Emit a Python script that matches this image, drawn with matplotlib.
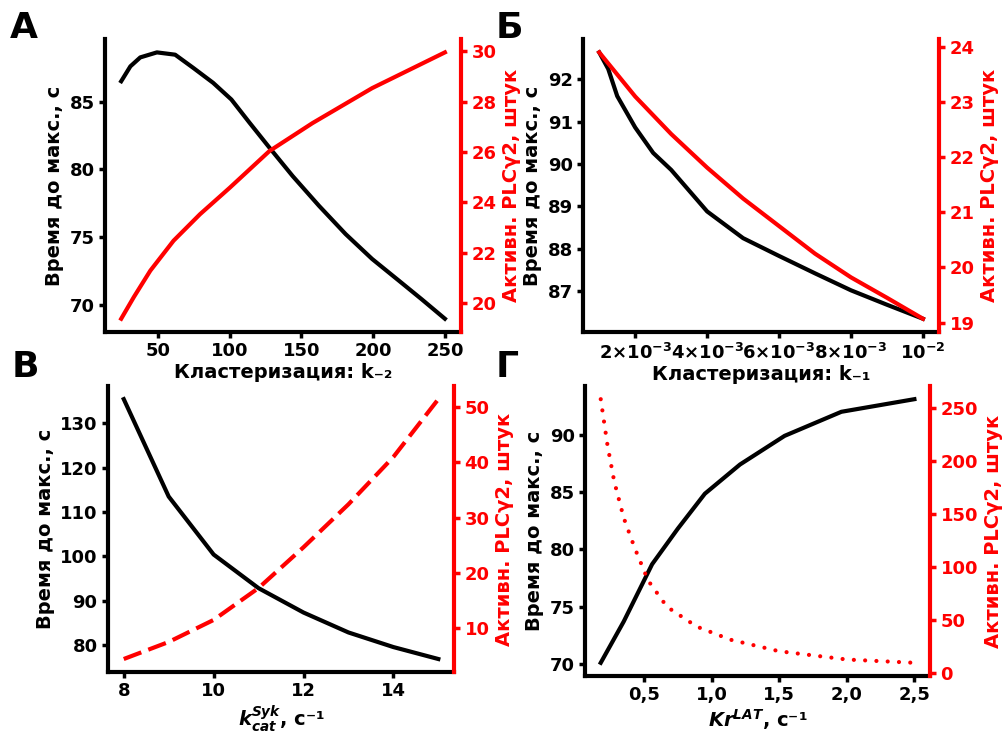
import matplotlib
matplotlib.use("Agg")
import matplotlib.pyplot as plt

# --- panel А: clustering k-2 ---
k2_time = [24.4, 30.8, 37.7, 49.3, 62.0, 74.7, 88.5, 101.2, 113.9, 127.7,
           143.9, 162.3, 180.8, 199.3, 217.7, 233.9, 250]
time_a = [86.5, 87.6, 88.26, 88.63, 88.46, 87.48, 86.38, 85.15, 83.43, 81.6,
          79.5, 77.3, 75.22, 73.38, 71.8, 70.4, 68.97]
k2_plc = [24.4, 33.2, 44.7, 60.9, 79.3, 100.0, 127.7, 157.7, 199.3, 250]
plc_a = [19.38, 20.24, 21.29, 22.48, 23.53, 24.58, 26.04, 27.15, 28.54, 29.96]

# --- panel Б: clustering k-1 ---
k1 = [0.001, 0.00125, 0.0015, 0.002, 0.0025, 0.003, 0.004, 0.005, 0.006,
      0.007, 0.008, 0.009, 0.010]
time_b = [92.63, 92.24, 91.6, 90.86, 90.26, 89.86, 88.88, 88.25, 87.83,
          87.42, 87.02, 86.68, 86.35]
plc_b = [23.9, 23.7, 23.5, 23.1, 22.76, 22.42, 21.81, 21.25, 20.75,
         20.25, 19.82, 19.45, 19.07]
k1_ticks = [0.002, 0.004, 0.006, 0.008, 0.010]
k1_ticklabels = [r"$\mathbf{2{\times}10^{-3}}$", r"$\mathbf{4{\times}10^{-3}}$",
                 r"$\mathbf{6{\times}10^{-3}}$", r"$\mathbf{8{\times}10^{-3}}$",
                 r"$\mathbf{10^{-2}}$"]

# --- panel В: kcat Syk ---
kcat = [8, 9, 10, 11, 12, 13, 14, 15]
time_c = [135.5, 113.5, 100.4, 92.8, 87.3, 82.8, 79.5, 76.8]
plc_c = [4.3, 7.4, 11.4, 17.2, 24.6, 32.4, 41.0, 51.5]

# --- panel Г: Kr LAT ---
kr_time = [0.18, 0.35, 0.56, 0.75, 0.95, 1.21, 1.54, 1.96, 2.5]
time_d = [70.1, 73.7, 78.7, 81.8, 84.85, 87.4, 89.9, 92.0, 93.1]
kr_plc = [0.18, 0.23, 0.28, 0.35, 0.43, 0.53, 0.67, 0.89, 1.14, 1.5, 2.0, 2.5]
plc_d = [258.4, 214.8, 180.5, 146.3, 118.2, 87.1, 62.2, 43.5, 31.1, 20.2, 12.4, 9.3]
kr_ticks = [0.5, 1.0, 1.5, 2.0, 2.5]
kr_ticklabels = ["0,5", "1,0", "1,5", "2,0", "2,5"]

YLEFT = "Время до макс., с"
YRIGHT = "Активн. PLCγ2, штук"
RED = "#ff0000"

plt.rcParams["font.family"] = ["DejaVu Sans"]
plt.rcParams["font.weight"] = "bold"
plt.rcParams["axes.labelweight"] = "bold"

fig = plt.figure(figsize=(10.03, 7.33), dpi=100)


def panel(rect, x1, y1, x2, y2, xlabel, red_style):
    ax = fig.add_axes(rect)
    ax2 = ax.twinx()
    ax.plot(x1, y1, color="black", lw=3)
    ax2.plot(x2, y2, color=RED, lw=3, **red_style)

    for s in ("top", "right"):
        ax.spines[s].set_visible(False)
    for s in ("top", "left", "bottom"):
        ax2.spines[s].set_visible(False)
    ax.spines["left"].set_linewidth(3)
    ax.spines["bottom"].set_linewidth(3)
    ax2.spines["right"].set_linewidth(3)
    ax2.spines["right"].set_color(RED)

    ax.tick_params(width=2.5, length=4, labelsize=13)
    ax2.tick_params(width=2.5, length=4, labelsize=13, colors=RED)

    ax.set_ylabel(YLEFT, fontsize=14)
    ax2.set_ylabel(YRIGHT, fontsize=14, color=RED)
    ax.set_xlabel(xlabel, fontsize=14, labelpad=2)
    return ax, ax2


# А
ax, ax2 = panel([0.1047, 0.547, 0.355, 0.3997], k2_time, time_a, k2_plc, plc_a,
                "Кластеризация: k₋₂", {})
ax.set_xticks([50, 100, 150, 200, 250])
ax.set_yticks([70, 75, 80, 85])
ax2.set_yticks([20, 22, 24, 26, 28, 30])

# Б
ax, ax2 = panel([0.5813, 0.547, 0.355, 0.3997], k1, time_b, k1, plc_b,
                "Кластеризация: k₋₁", {})
ax.set_xticks(k1_ticks, k1_ticklabels)
ax.set_yticks([87, 88, 89, 90, 91, 92])
ax2.set_yticks([19, 20, 21, 22, 23, 24])

# В
ax, ax2 = panel([0.1077, 0.0832, 0.345, 0.390], kcat, time_c, kcat, plc_c,
                r"$\mathbfit{k}_{\mathbfit{cat}}^{\mathbfit{Syk}}$, с⁻¹",
                {"dashes": (4.5, 1.8)})
ax.set_xticks([8, 10, 12, 14])
ax.set_yticks([80, 90, 100, 110, 120, 130])
ax2.set_yticks([10, 20, 30, 40, 50])

# Г
ax, ax2 = panel([0.5833, 0.0778, 0.344, 0.3956], kr_time, time_d, kr_plc, plc_d,
                r"$\mathbfit{Kr}^{\mathbfit{LAT}}$, с⁻¹",
                {"dashes": (0.01, 2.7), "dash_capstyle": "round"})
ax.set_xticks(kr_ticks, kr_ticklabels)
ax.set_yticks([70, 75, 80, 85, 90])
ax2.set_yticks([0, 50, 100, 150, 200, 250])

for x, y, letter in [(0.010, 0.985, "А"), (0.494, 0.985, "Б"),
                     (0.012, 0.522, "В"), (0.494, 0.522, "Г")]:
    fig.text(x, y, letter, fontsize=26, fontweight="bold", va="top", ha="left")

fig.savefig("out.png", dpi=100)
